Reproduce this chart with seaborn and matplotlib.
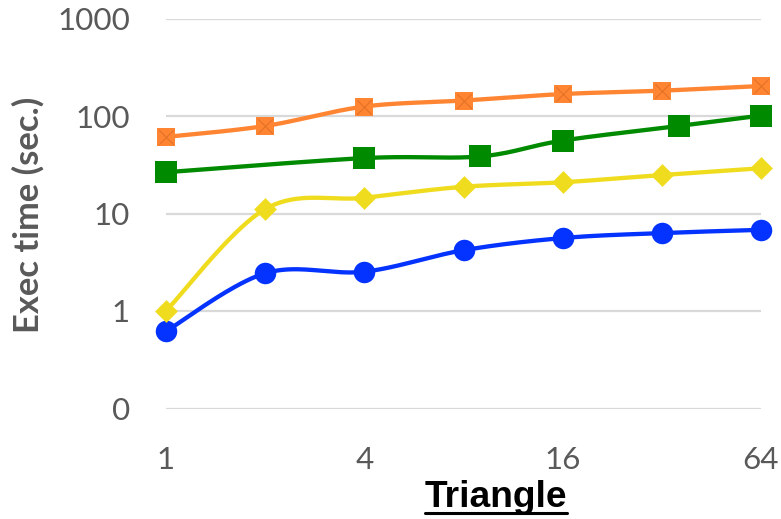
import numpy as np
import pandas as pd
import matplotlib
matplotlib.use("Agg")
import matplotlib.pyplot as plt
import seaborn as sns

# Problem sizes (powers of two, and perfect squares for the grid series)
x_pow2 = [1, 2, 4, 8, 16, 32, 64]
x_square = [1, 4, 9, 16, 36, 64]

# Execution times in seconds
orange_times = [61, 79, 125, 144, 168, 182, 203]
green_times = [26.5, 37, 38.5, 56, 79, 101]
yellow_times = [1.0, 11.1, 14.5, 18.8, 20.9, 24.8, 29.1]
blue_times = [0.62, 2.44, 2.53, 4.2, 5.6, 6.3, 6.8]

y_ticks = [0.1, 1, 10, 100, 1000]
y_tick_labels = ["0", "1", "10", "100", "1000"]
x_ticks = [1, 4, 16, 64]
x_tick_labels = ["1", "4", "16", "64"]

sns.set_theme(style="white")
plt.rcParams["font.family"] = ["Lato", "DejaVu Sans"]

W, H = 781, 519
fig = plt.figure(figsize=(W / 100, H / 100), dpi=100)
ax = fig.add_axes([166 / W, 1 - 408.5 / H, (761 - 166) / W, (408.5 - 18.5) / H])

ax.set_xscale("log", base=2)
ax.set_yscale("log")
ax.set_xlim(1, 64)
ax.set_ylim(0.1, 1000)

for s in ax.spines.values():
    s.set_visible(False)
ax.yaxis.grid(True, color="#d9d9d9", linewidth=1.6)
ax.xaxis.grid(False)
ax.minorticks_off()
ax.set_yticks(y_ticks)
ax.set_yticklabels(y_tick_labels)
ax.set_xticks(x_ticks)
ax.set_xticklabels(x_tick_labels)
ax.tick_params(axis="both", length=0, labelsize=22.6, labelcolor="#595959")
ax.tick_params(axis="y", pad=26)
ax.tick_params(axis="x", pad=27)


def smooth_curve(xs, ys, steps=40):
    """Bezier smoothing through the points, computed in display space."""
    pts = ax.transData.transform(np.column_stack([xs, ys]))
    n = len(pts)
    out = []
    for i in range(n - 1):
        p0 = pts[max(i - 1, 0)]
        p1 = pts[i]
        p2 = pts[i + 1]
        p3 = pts[min(i + 2, n - 1)]
        c1 = p1 + (p2 - p0) / 6.0
        c2 = p2 - (p3 - p1) / 6.0
        t = np.linspace(0, 1, steps)[:, None]
        seg = ((1 - t) ** 3) * p1 + 3 * ((1 - t) ** 2) * t * c1 + 3 * (1 - t) * t ** 2 * c2 + t ** 3 * p2
        out.append(seg if i == 0 else seg[1:])
    curve = np.vstack(out)
    return ax.transData.inverted().transform(curve)


series = [
    ("blue", x_pow2, blue_times, "#0433ff", "o", 240),
    ("yellow", x_pow2, yellow_times, "#f0dc1e", "D", 135),
    ("green", x_square, green_times, "#008a00", "s", 230),
    ("orange", x_pow2, orange_times, "#ff8533", "s", 150),
]

for name, xs, ys, color, marker, size in series:
    curve = smooth_curve(xs, ys)
    ax.plot(curve[:, 0], curve[:, 1], color=color, linewidth=3.1,
            solid_capstyle="round", zorder=2, clip_on=False)
    df = pd.DataFrame({"size": xs, "time": ys})
    sns.scatterplot(data=df, x="size", y="time", ax=ax, color=color,
                    marker=marker, s=size, linewidth=0, zorder=3,
                    clip_on=False, legend=False)
    if name == "orange":
        # cross drawn over the orange squares
        sns.scatterplot(data=df, x="size", y="time", ax=ax, color="#e06f24",
                        marker="x", s=110, linewidth=0.9, alpha=0.8,
                        zorder=4, clip_on=False, legend=False)

ax.set_xlabel("")
ax.set_ylabel("")

fig.text(28 / W, 1 - 215 / H, "Exec time (sec.)", rotation=90,
         ha="center", va="center", fontsize=24.8, fontweight="bold",
         color="#595959")

xl = fig.text(496 / W, 1 - 507 / H, "Triangle", ha="center", va="baseline",
              fontsize=26.7, fontweight="bold", color="black",
              family=["Liberation Sans", "DejaVu Sans"])

# underline beneath the axis title
fig.canvas.draw()
bb = xl.get_window_extent()
uy = 1 - 513 / H
fig.add_artist(plt.Line2D([bb.x0 / W, bb.x1 / W], [uy, uy],
                          transform=fig.transFigure, color="black",
                          linewidth=2.2))

fig.savefig("out.png", dpi=100)
